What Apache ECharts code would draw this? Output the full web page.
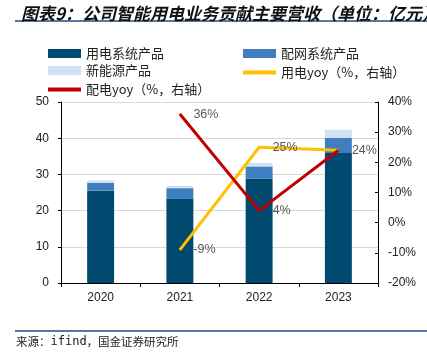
<!DOCTYPE html>
<html><head><meta charset="utf-8">
<script src="https://cdn.jsdelivr.net/npm/echarts@6/dist/echarts.min.js"></script>
<style>html,body{margin:0;padding:0;background:#fff}#c{width:427px;height:356px}</style>
</head><body><div id="c"></div>
<script>
const categories = ['2020','2021','2022','2023'];
const yongdian = [25.5, 23.2, 28.8, 35.9];
const peiwang = [2.2, 3.0, 3.4, 4.2];
const xinnengyuan = [0.6, 0.6, 1.0, 2.2];
const yongdianYoy = [null, -9, 25, 24];
const peidianYoy = [null, 36, 4, 24];
const leftTicks = [0, 10, 20, 30, 40, 50];
const rightTicks = [-20, -10, 0, 10, 20, 30, 40];

const CJK = '"Noto Sans CJK SC", sans-serif';
const NUM = '"Liberation Sans", Arial, sans-serif';
const chart = echarts.init(document.getElementById('c'));
const legText = {fontFamily: CJK, fontSize: 13, color: '#222'};
function leg(name, left, top, w, h) {
  return {data: [name], left: left, top: top, itemWidth: w, itemHeight: h, itemGap: 0,
    textStyle: legText, icon: 'rect', selectedMode: false, padding: 0};
}
const lbl = (hideLast) => ({show: true, position: 'right', distance: 13,
  formatter: p => (hideLast && p.dataIndex === 3) ? '' : p.value + '%',
  fontFamily: NUM, fontSize: 12.5, color: '#595959'});
chart.setOption({
  animation: false,
  title: {text: '图表9：公司智能用电业务贡献主要营收（单位：亿元）', left: 16, top: 0,
    textStyle: {fontFamily: CJK, fontSize: 17, fontWeight: 'bold', fontStyle: 'italic', color: '#111'}},
  graphic: [
    {type: 'line', shape: {x1: 15, y1: 21, x2: 427, y2: 21}, style: {stroke: '#1f4e79', lineWidth: 1.5}},
    {type: 'line', shape: {x1: 15, y1: 331, x2: 427, y2: 331}, style: {stroke: '#1f4e79', lineWidth: 1.5}},
    {type: 'text', left: 16, top: 336, style: {text: '{c|来源：}{m|ifind}{c|，国金证券研究所}',
      rich: {c: {fontFamily: CJK, fontSize: 11.5, fill: '#222', color: '#222'},
             m: {fontFamily: '"DejaVu Sans Mono", monospace', fontSize: 12, fill: '#222', color: '#222'}}}}
  ],
  legend: [
    leg('用电系统产品', 48, 47, 33, 9),
    leg('配网系统产品', 243, 47, 33, 9),
    leg('新能源产品', 48, 64, 33, 9),
    leg('用电yoy（%，右轴）', 243, 66, 33, 4),
    leg('配电yoy（%，右轴）', 48, 83, 33, 4)
  ],
  grid: {left: 61, right: 49, top: 102, bottom: 73},
  xAxis: {type: 'category', data: categories, boundaryGap: true,
    axisLine: {lineStyle: {color: '#000'}},
    axisTick: {show: true, inside: false, length: 4, lineStyle: {color: '#000'}},
    axisLabel: {fontFamily: NUM, fontSize: 12, color: '#222', margin: 9}},
  yAxis: [
    {type: 'value', min: 0, max: 50, interval: 10,
      axisLine: {show: true, lineStyle: {color: '#000'}},
      axisTick: {show: true, length: 3, lineStyle: {color: '#000'}},
      splitLine: {lineStyle: {color: '#d9d9d9', width: 1}},
      axisLabel: {fontFamily: NUM, fontSize: 12, color: '#222', margin: 12}},
    {type: 'value', min: -20, max: 40, interval: 10, position: 'right',
      axisLine: {show: true, lineStyle: {color: '#000'}},
      axisTick: {show: true, inside: true, length: 3, lineStyle: {color: '#000'}},
      splitLine: {show: false},
      axisLabel: {fontFamily: NUM, fontSize: 12, color: '#222', margin: 10, formatter: '{value}%'}}
  ],
  series: [
    {name: '用电系统产品', type: 'bar', stack: 's', data: yongdian, barWidth: '34%', itemStyle: {color: '#004a70'}},
    {name: '配网系统产品', type: 'bar', stack: 's', data: peiwang, itemStyle: {color: '#3f7fbf'}},
    {name: '新能源产品', type: 'bar', stack: 's', data: xinnengyuan, itemStyle: {color: '#cfe2f3'}},
    {name: '用电yoy（%，右轴）', type: 'line', yAxisIndex: 1, data: yongdianYoy, symbol: 'circle', symbolSize: 1, showSymbol: true,
      lineStyle: {color: '#ffc000', width: 3}, itemStyle: {color: '#ffc000'},
      label: lbl(true), labelLayout: {hideOverlap: false}},
    {name: '配电yoy（%，右轴）', type: 'line', yAxisIndex: 1, data: peidianYoy, symbol: 'circle', symbolSize: 1, showSymbol: true,
      lineStyle: {color: '#c00000', width: 3}, itemStyle: {color: '#c00000'},
      label: lbl(false), labelLayout: {hideOverlap: false}}
  ]
});
</script></body></html>
